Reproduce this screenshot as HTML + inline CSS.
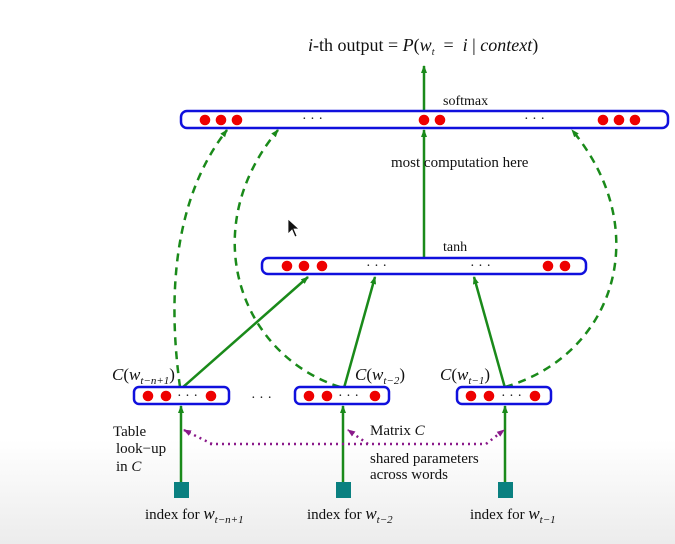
<!DOCTYPE html>
<html><head><meta charset="utf-8"><style>
html,body{margin:0;padding:0;}
body{width:675px;height:544px;overflow:hidden;background:linear-gradient(#fff 0,#fff 440px,#ececec 544px);}
svg{display:block;}
text{font-family:"Liberation Serif",serif;fill:#111;}
.it{font-style:italic;}
</style></head><body>
<svg width="675" height="544" viewBox="0 0 675 544">
<defs>
<marker id="ag" markerWidth="8" markerHeight="8" refX="7" refY="4" orient="auto" markerUnits="userSpaceOnUse"><path d="M0,1 L8,4 L0,7 Z" fill="#1a8a1a"/></marker>
<marker id="ap" markerWidth="8" markerHeight="8" refX="7" refY="4" orient="auto" markerUnits="userSpaceOnUse"><path d="M0,1 L8,4 L0,7 Z" fill="#8a1a8a"/></marker>
</defs>
<text x="308" y="51" font-size="18" xml:space="preserve"><tspan class="it">i</tspan>-th output = <tspan class="it">P</tspan>(<tspan class="it">w</tspan><tspan class="it" font-size="10" dy="4">t</tspan><tspan dy="-4">  =  </tspan><tspan class="it">i</tspan> | <tspan class="it">context</tspan>)</text>
<g stroke="#1a8a1a" stroke-width="2.5" fill="none">
<line x1="424" y1="111" x2="424" y2="66" marker-end="url(#ag)"/>
<line x1="424" y1="258" x2="424" y2="130" marker-end="url(#ag)"/>
<line x1="182" y1="388" x2="308" y2="277" marker-end="url(#ag)"/>
<line x1="344" y1="388" x2="375" y2="277" marker-end="url(#ag)"/>
<line x1="505" y1="388" x2="474" y2="277" marker-end="url(#ag)"/>
<line x1="181" y1="482" x2="181" y2="406" marker-end="url(#ag)"/>
<line x1="343" y1="482" x2="343" y2="406" marker-end="url(#ag)"/>
<line x1="505" y1="482" x2="505" y2="406" marker-end="url(#ag)"/>
</g>
<g stroke="#1a8a1a" stroke-width="2.5" fill="none" stroke-dasharray="8,6">
<path d="M180,387 C168,300 172,200 227,130" marker-end="url(#ag)"/>
<path d="M340,387 C240,355 195,230 278,130" marker-end="url(#ag)"/>
<path d="M505,387 C615,355 655,230 572,130" marker-end="url(#ag)"/>
</g>
<g stroke="#8a1a8a" stroke-width="2.5" fill="none" stroke-dasharray="2,4">
<path d="M210,444 L486,444 L504,430" marker-end="url(#ap)"/>
<path d="M212,444 L184,430" marker-end="url(#ap)"/>
<path d="M368,444 L348,430" marker-end="url(#ap)"/>
</g>
<g stroke="#1010dd" stroke-width="2.5" fill="#fff">
<rect x="181" y="111" width="487" height="17" rx="6"/>
<rect x="262" y="258" width="324" height="16" rx="6"/>
<rect x="134" y="387" width="95" height="17" rx="5"/>
<rect x="295" y="387" width="94" height="17" rx="5"/>
<rect x="457" y="387" width="94" height="17" rx="5"/>
</g>
<g fill="#ee0000">
<circle cx="205" cy="120" r="5.3"/><circle cx="221" cy="120" r="5.3"/><circle cx="237" cy="120" r="5.3"/>
<circle cx="424" cy="120" r="5.3"/><circle cx="440" cy="120" r="5.3"/>
<circle cx="603" cy="120" r="5.3"/><circle cx="619" cy="120" r="5.3"/><circle cx="635" cy="120" r="5.3"/>
<circle cx="287" cy="266" r="5.3"/><circle cx="304" cy="266" r="5.3"/><circle cx="322" cy="266" r="5.3"/>
<circle cx="548" cy="266" r="5.3"/><circle cx="565" cy="266" r="5.3"/>
<circle cx="148" cy="396" r="5.3"/><circle cx="166" cy="396" r="5.3"/><circle cx="211" cy="396" r="5.3"/>
<circle cx="309" cy="396" r="5.3"/><circle cx="327" cy="396" r="5.3"/><circle cx="375" cy="396" r="5.3"/>
<circle cx="471" cy="396" r="5.3"/><circle cx="489" cy="396" r="5.3"/><circle cx="535" cy="396" r="5.3"/>
</g>
<g font-size="14">
<text x="302" y="123">· · ·</text><text x="524" y="123">· · ·</text>
<text x="366" y="270">· · ·</text><text x="470" y="270">· · ·</text>
<text x="177" y="400">· · ·</text><text x="338" y="400">· · ·</text><text x="501" y="400">· · ·</text>
<text x="251" y="402">· · ·</text>
</g>
<text x="443" y="105" font-size="14">softmax</text>
<text x="391" y="167" font-size="15">most  computation here</text>
<text x="443" y="251" font-size="14">tanh</text>
<text x="112" y="380" font-size="17"><tspan class="it">C</tspan>(<tspan class="it">w</tspan><tspan class="it" font-size="11" dy="4">t−n+1</tspan><tspan dy="-4">)</tspan></text>
<text x="355" y="380" font-size="17"><tspan class="it">C</tspan>(<tspan class="it">w</tspan><tspan class="it" font-size="11" dy="4">t−2</tspan><tspan dy="-4">)</tspan></text>
<text x="440" y="380" font-size="17"><tspan class="it">C</tspan>(<tspan class="it">w</tspan><tspan class="it" font-size="11" dy="4">t−1</tspan><tspan dy="-4">)</tspan></text>
<g font-size="15">
<text x="113" y="436">Table</text>
<text x="116" y="453">look−up</text>
<text x="116" y="471">in <tspan class="it">C</tspan></text>
<text x="370" y="435">Matrix <tspan class="it">C</tspan></text>
<text x="370" y="463">shared parameters</text>
<text x="370" y="479">across words</text>
</g>
<g fill="#0a8080">
<rect x="174" y="482" width="15" height="16"/>
<rect x="336" y="482" width="15" height="16"/>
<rect x="498" y="482" width="15" height="16"/>
</g>
<g font-size="15">
<text x="145" y="519">index for <tspan class="it" font-size="17">w</tspan><tspan class="it" font-size="11" dy="4">t−n+1</tspan></text>
<text x="307" y="519">index for <tspan class="it" font-size="17">w</tspan><tspan class="it" font-size="11" dy="4">t−2</tspan></text>
<text x="470" y="519">index for <tspan class="it" font-size="17">w</tspan><tspan class="it" font-size="11" dy="4">t−1</tspan></text>
</g>
<path d="M288,219 L288,234 L292,230 L295,237 L297,236 L294,229 L299,229 Z" fill="#111" stroke="#fff" stroke-width="0.8"/>
</svg>
</body></html>
